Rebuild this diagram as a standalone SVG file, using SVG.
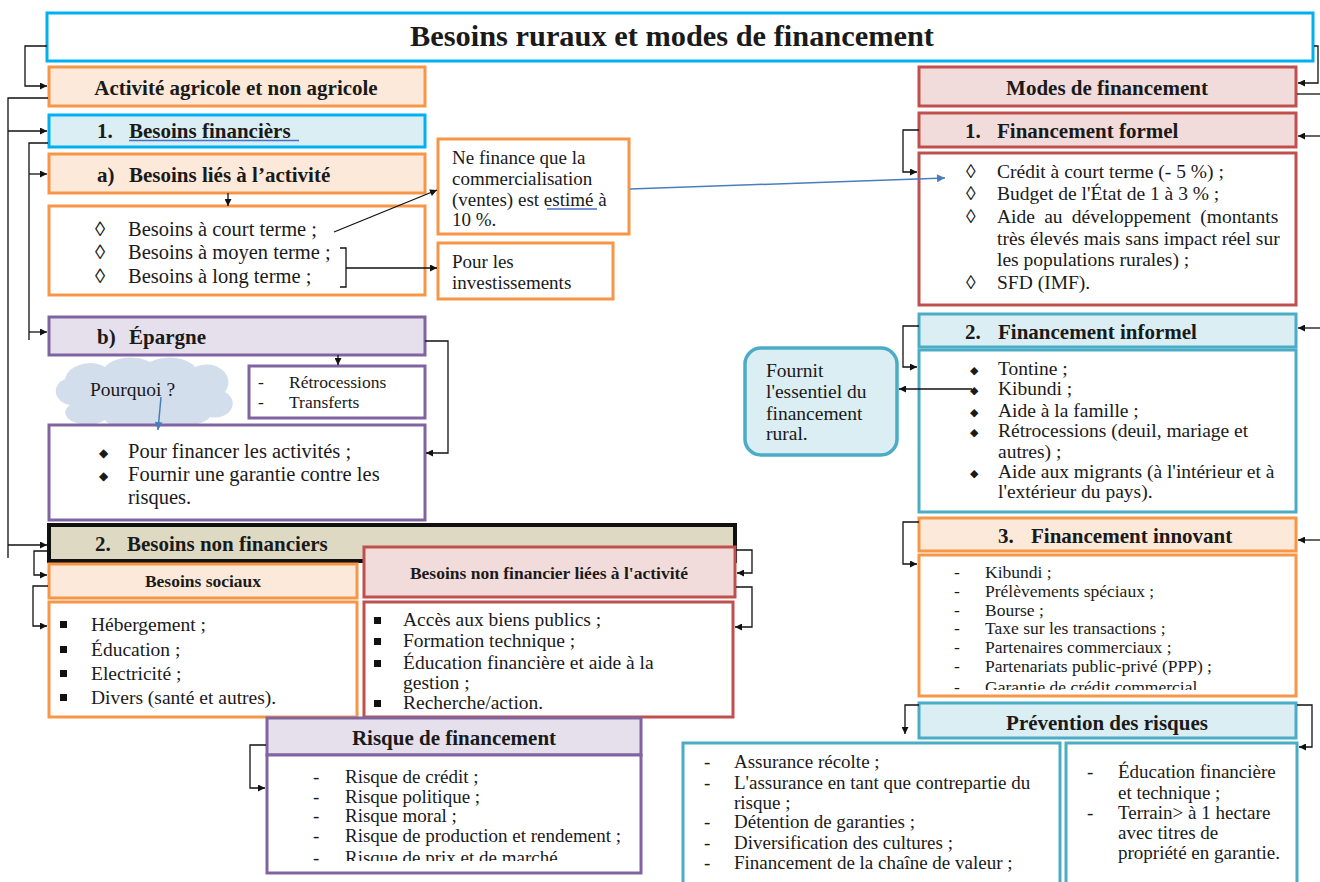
<svg xmlns="http://www.w3.org/2000/svg" width="1320" height="882" viewBox="0 0 1320 882">
  <style>
    .bx{stroke-width:3}
    .or{fill:#fde9d9;stroke:#f79646}
    .orw{fill:#ffffff;stroke:#f79646}
    .bl{fill:#daeef3;stroke:#00b0f0}
    .tq{fill:#daeef3;stroke:#4bacc6}
    .tqw{fill:#ffffff;stroke:#4bacc6}
    .rd{fill:#f2dcdb;stroke:#c0504d}
    .rdw{fill:#ffffff;stroke:#c0504d}
    .pu{fill:#e5e0ec;stroke:#8064a2}
    .puw{fill:#ffffff;stroke:#8064a2}
    text{font-family:"Liberation Serif","DejaVu Serif",serif;fill:#1a1a1a}
    .h{font-weight:bold;font-size:21px}
    .hs{font-weight:bold;font-size:17.5px}
    .t{font-size:19.5px}
    .tb{font-size:20.5px}
    .ts{font-size:17.5px}
    .tm{font-size:19px}
    .c{text-anchor:middle}
    .sym{font-family:"DejaVu Sans",sans-serif}
    .con path,.con line,.con polyline{fill:none;stroke:#111;stroke-width:1.3}
    .blue{stroke:#4a7ebb !important;stroke-width:1.5 !important}
    .spell{stroke:#4472c4;stroke-width:1.4}
  </style>
  <defs>
    <marker id="ah" viewBox="0 0 10 10" refX="10" refY="5" markerWidth="9" markerHeight="7" markerUnits="userSpaceOnUse" orient="auto">
      <path d="M0,0 L10,5 L0,10 z" fill="#111"/>
    </marker>
    <marker id="ahb" viewBox="0 0 10 10" refX="10" refY="5" markerWidth="11" markerHeight="8" markerUnits="userSpaceOnUse" orient="auto">
      <path d="M0,0 L10,5 L0,10 z" fill="#4a7ebb"/>
    </marker>
    <clipPath id="clipInnov"><rect x="920" y="556" width="374" height="134"/></clipPath>
    <clipPath id="clipRisk"><rect x="268" y="756" width="372" height="105"/></clipPath>
  </defs>

  <rect width="1320" height="882" fill="#ffffff"/>

  <!-- title -->
  <g id="title">
    <rect class="bx" x="47" y="13" width="1266" height="48" fill="#ffffff" stroke="#00b0f0" stroke-width="3.5"/>
    <text x="672" y="46" class="c" font-weight="bold" font-size="29" textLength="524" lengthAdjust="spacingAndGlyphs">Besoins ruraux et modes de financement</text>
  </g>

  <!-- left column: besoins -->
  <g id="activite">
    <rect class="bx or" x="49" y="67" width="376" height="39"/>
    <text x="236" y="95" class="h c">Activité agricole et non agricole</text>
  </g>

  <g id="besoins-financiers">
    <rect class="bx bl" x="49" y="115" width="376" height="32"/>
    <text x="97" y="138" class="h">1.</text>
    <text x="129" y="138" class="h">Besoins  financièrs</text>
    <line class="spell" x1="129" y1="140.5" x2="299" y2="140.5"/>
  </g>

  <g id="besoins-activite">
    <rect class="bx or" x="49" y="154" width="376" height="39"/>
    <text x="97" y="182" class="h">a)</text>
    <text x="129" y="182" class="h">Besoins liés à l’activité</text>
  </g>

  <g id="besoins-termes">
    <rect class="bx orw" x="49" y="206" width="376" height="89"/>
    <text x="95" y="236" class="tb">◊</text>
    <text x="128" y="236" class="tb">Besoins à court terme ;</text>
    <text x="95" y="259" class="tb">◊</text>
    <text x="128" y="259" class="tb">Besoins à moyen terme ;</text>
    <text x="95" y="283" class="tb">◊</text>
    <text x="128" y="283" class="tb">Besoins à long terme ;</text>
  </g>

  <g id="commercialisation">
    <rect class="bx orw" x="438" y="139" width="191" height="95"/>
    <text x="452" y="164" class="tm">Ne finance que la</text>
    <text x="452" y="185" class="tm">commercialisation</text>
    <text x="452" y="206" class="tm">(ventes) est estimé à</text>
    <text x="452" y="226" class="tm">10 %.</text>
    <line class="spell" x1="547" y1="209" x2="597" y2="209"/>
  </g>

  <g id="investissements">
    <rect class="bx orw" x="438" y="243" width="175" height="56"/>
    <text x="452" y="268" class="tm">Pour les</text>
    <text x="452" y="289" class="tm">investissements</text>
  </g>

  <g id="epargne">
    <rect class="bx pu" x="49" y="317" width="376" height="38"/>
    <text x="97" y="344" class="h">b)</text>
    <text x="129" y="344" class="h">Épargne</text>
  </g>

  <g id="retrocessions">
    <rect class="bx puw" x="249" y="366" width="176" height="52"/>
    <text x="258" y="388" class="ts">-</text>
    <text x="289" y="388" class="ts">Rétrocessions</text>
    <text x="258" y="408" class="ts">-</text>
    <text x="289" y="408" class="ts">Transferts</text>
  </g>

  <g id="pourquoi">
    <path d="M70,405 a18,14 0 0 1 -5,-26 a25,18 0 0 1 40,-12 a28,16 0 0 1 45,-5 a28,16 0 0 1 45,5 a22,18 0 0 1 30,25 a18,14 0 0 1 -15,25 a30,14 0 0 1 -50,5 a30,14 0 0 1 -55,-2 a22,12 0 0 1 -35,-15 z" fill="#d3deed"/>
    <text x="90" y="396" class="t">Pourquoi ?</text>
  </g>

  <g id="epargne-raisons">
    <rect class="bx puw" x="49" y="425" width="376" height="95"/>
    <text x="99" y="457" class="sym" font-size="12">◆</text>
    <text x="128" y="458" class="tb">Pour financer les activités ;</text>
    <text x="99" y="480" class="sym" font-size="12">◆</text>
    <text x="128" y="481" class="tb">Fournir une garantie contre les</text>
    <text x="128" y="504" class="tb">risques.</text>
  </g>

  <g id="besoins-non-financiers">
    <rect x="49" y="525" width="686" height="36" fill="#ddd9c3" stroke="#111" stroke-width="4"/>
    <text x="95" y="551" class="h">2.</text>
    <text x="127" y="551" class="h">Besoins non financiers</text>
  </g>

  <g id="besoins-sociaux">
    <rect class="bx or" x="49" y="564" width="308" height="34"/>
    <text x="203" y="587" class="hs c">Besoins sociaux</text>
  </g>

  <g id="sociaux-liste">
    <rect class="bx orw" x="49" y="602" width="308" height="115"/>
    <rect x="60" y="621" width="7" height="7" fill="#111"/>
    <text x="91" y="631" class="t">Hébergement ;</text>
    <rect x="60" y="646" width="7" height="7" fill="#111"/>
    <text x="91" y="656" class="t">Éducation ;</text>
    <rect x="60" y="670" width="7" height="7" fill="#111"/>
    <text x="91" y="680" class="t">Electricité ;</text>
    <rect x="60" y="694" width="7" height="7" fill="#111"/>
    <text x="91" y="704" class="t">Divers (santé et autres).</text>
  </g>

  <g id="non-financier-activite">
    <rect class="bx rd" x="364" y="547" width="371" height="50"/>
    <text x="549" y="579" class="hs c">Besoins non financier liées à l'activité</text>
  </g>

  <g id="non-financier-liste">
    <rect class="bx rdw" x="364" y="602" width="369" height="115"/>
    <rect x="374" y="617" width="7" height="7" fill="#111"/>
    <text x="403" y="626" class="t">Accès aux biens publics ;</text>
    <rect x="374" y="638" width="7" height="7" fill="#111"/>
    <text x="403" y="647" class="t">Formation technique ;</text>
    <rect x="374" y="660" width="7" height="7" fill="#111"/>
    <text x="403" y="669" class="t">Éducation financière et aide à la</text>
    <text x="403" y="689" class="t">gestion ;</text>
    <rect x="374" y="700" width="7" height="7" fill="#111"/>
    <text x="403" y="709" class="t">Recherche/action.</text>
  </g>

  <g id="risque-financement">
    <rect class="bx pu" x="267" y="718" width="374" height="37"/>
    <text x="454" y="745" class="h c">Risque de financement</text>
  </g>

  <g id="risque-liste">
    <rect class="bx puw" x="267" y="755" width="374" height="118"/>
    <g clip-path="url(#clipRisk)">
      <text x="313" y="783" class="tm">-</text>
      <text x="345" y="783" class="tm">Risque de crédit ;</text>
      <text x="313" y="803" class="tm">-</text>
      <text x="345" y="803" class="tm">Risque politique ;</text>
      <text x="313" y="822" class="tm">-</text>
      <text x="345" y="822" class="tm">Risque moral ;</text>
      <text x="313" y="842" class="tm">-</text>
      <text x="345" y="842" class="tm">Risque de production et rendement ;</text>
      <text x="313" y="864" class="tm">-</text>
      <text x="345" y="864" class="tm">Risque de prix et de marché</text>
    </g>
  </g>

  <!-- right column: modes de financement -->
  <g id="modes">
    <rect class="bx rd" x="919" y="67" width="377" height="39"/>
    <text x="1107" y="95" class="h c">Modes de financement</text>
  </g>

  <g id="financement-formel">
    <rect class="bx rd" x="919" y="113" width="377" height="34"/>
    <text x="965" y="138" class="h">1.</text>
    <text x="997" y="138" class="h">Financement formel</text>
  </g>

  <g id="formel-liste">
    <rect class="bx rdw" x="919" y="153" width="377" height="152"/>
    <text x="966" y="178" class="t">◊</text>
    <text x="997" y="178" class="t">Crédit à court terme (- 5 %) ;</text>
    <text x="966" y="200" class="t">◊</text>
    <text x="997" y="200" class="t">Budget de l'État de 1 à 3 % ;</text>
    <text x="966" y="223" class="t">◊</text>
    <text x="997" y="223" class="t" word-spacing="4.4">Aide au développement (montants</text>
    <text x="997" y="245" class="t">très élevés mais sans impact réel sur</text>
    <text x="997" y="266" class="t">les populations rurales) ;</text>
    <text x="966" y="289" class="t">◊</text>
    <text x="997" y="289" class="t">SFD (IMF).</text>
  </g>

  <g id="financement-informel">
    <rect class="bx tq" x="919" y="314" width="377" height="33"/>
    <text x="965" y="339" class="h">2.</text>
    <text x="998" y="339" class="h">Financement informel</text>
  </g>

  <g id="informel-liste">
    <rect class="bx tqw" x="919" y="350" width="377" height="162"/>
    <text x="970" y="374" class="sym" font-size="11">◆</text>
    <text x="998" y="375" class="t">Tontine ;</text>
    <text x="970" y="394" class="sym" font-size="11">◆</text>
    <text x="998" y="395" class="t">Kibundi ;</text>
    <text x="970" y="416" class="sym" font-size="11">◆</text>
    <text x="998" y="417" class="t">Aide à la famille ;</text>
    <text x="970" y="436" class="sym" font-size="11">◆</text>
    <text x="998" y="437" class="t">Rétrocessions (deuil, mariage et</text>
    <text x="998" y="458" class="t">autres) ;</text>
    <text x="970" y="477" class="sym" font-size="11">◆</text>
    <text x="998" y="478" class="t">Aide aux migrants (à l'intérieur et à</text>
    <text x="998" y="498" class="t">l'extérieur du pays).</text>
  </g>

  <g id="essentiel">
    <rect x="745" y="348" width="152" height="107" rx="16" ry="16" fill="#daeef3" stroke="#4bacc6" stroke-width="3.5"/>
    <text x="766" y="377" class="t">Fournit</text>
    <text x="766" y="398" class="t">l'essentiel du</text>
    <text x="766" y="420" class="t">financement</text>
    <text x="766" y="440" class="t">rural.</text>
  </g>

  <g id="financement-innovant">
    <rect class="bx or" x="919" y="518" width="377" height="33"/>
    <text x="998" y="543" class="h">3.</text>
    <text x="1031" y="543" class="h">Financement innovant</text>
  </g>

  <g id="innovant-liste">
    <rect class="bx orw" x="919" y="555" width="377" height="141"/>
    <g clip-path="url(#clipInnov)">
      <text x="954" y="578" class="ts">-</text>
      <text x="985" y="578" class="ts">Kibundi ;</text>
      <text x="954" y="597" class="ts">-</text>
      <text x="985" y="597" class="ts">Prélèvements spéciaux ;</text>
      <text x="954" y="616" class="ts">-</text>
      <text x="985" y="616" class="ts">Bourse ;</text>
      <text x="954" y="634" class="ts">-</text>
      <text x="985" y="634" class="ts">Taxe sur les transactions ;</text>
      <text x="954" y="653" class="ts">-</text>
      <text x="985" y="653" class="ts">Partenaires commerciaux ;</text>
      <text x="954" y="672" class="ts">-</text>
      <text x="985" y="672" class="ts">Partenariats public-privé (PPP) ;</text>
      <text x="954" y="693" class="ts">-</text>
      <text x="985" y="693" class="ts">Garantie de crédit commercial</text>
    </g>
  </g>

  <g id="prevention">
    <rect class="bx tq" x="919" y="703" width="377" height="35"/>
    <text x="1107" y="730" class="h c" font-size="19.5">Prévention des risques</text>
  </g>

  <g id="prevention-gauche">
    <rect class="bx tqw" x="683" y="743" width="377" height="150"/>
    <text x="704" y="768" class="tm">-</text>
    <text x="734" y="768" class="tm">Assurance récolte ;</text>
    <text x="704" y="789" class="tm">-</text>
    <text x="734" y="789" class="tm">L'assurance en tant que contrepartie du</text>
    <text x="734" y="809" class="tm">risque ;</text>
    <text x="704" y="828" class="tm">-</text>
    <text x="734" y="828" class="tm">Détention de garanties ;</text>
    <text x="704" y="849" class="tm">-</text>
    <text x="734" y="849" class="tm">Diversification des cultures ;</text>
    <text x="704" y="869" class="tm">-</text>
    <text x="734" y="869" class="tm">Financement de la chaîne de valeur ;</text>
  </g>

  <g id="prevention-droite">
    <rect class="bx tqw" x="1066" y="743" width="231" height="150"/>
    <text x="1087" y="778" class="tm" font-size="18.5">-</text>
    <text x="1118" y="778" class="tm" font-size="18.5">Éducation financière</text>
    <text x="1118" y="799" class="tm" font-size="18.5">et technique ;</text>
    <text x="1087" y="819" class="tm" font-size="18.5">-</text>
    <text x="1118" y="819" class="tm" font-size="18.5">Terrain&gt; à 1 hectare</text>
    <text x="1118" y="839" class="tm" font-size="18.5">avec titres de</text>
    <text x="1118" y="859" class="tm" font-size="18.5">propriété en garantie.</text>
  </g>

  <!-- connectors -->
  <g id="connectors" class="con">
    <!-- left side -->
    <polyline points="47,46 25,46 25,86 47,86" marker-end="url(#ah)"/>
    <polyline points="48,98 8,98 8,558"/>
    <line x1="8" y1="131" x2="47" y2="131" marker-end="url(#ah)"/>
    <line x1="8" y1="545" x2="47" y2="545" marker-end="url(#ah)"/>
    <polyline points="48,143 29,143 29,340"/>
    <line x1="29" y1="174" x2="47" y2="174" marker-end="url(#ah)"/>
    <line x1="29" y1="332" x2="47" y2="332" marker-end="url(#ah)"/>
    <line x1="228" y1="193" x2="228" y2="206" marker-end="url(#ah)"/>
    <line x1="334" y1="232" x2="437" y2="190" marker-end="url(#ah)"/>
    <path d="M340,248 H346 V287 H340" stroke="#555"/>
    <line x1="346" y1="268" x2="437" y2="268" marker-end="url(#ah)"/>
    <line x1="338" y1="355" x2="338" y2="365" marker-end="url(#ah)"/>
    <polyline points="425,341 448,341 448,453 426,453" marker-end="url(#ah)"/>
    <line class="blue" x1="161" y1="397" x2="158" y2="430" marker-end="url(#ahb)"/>
    <polyline points="48,551 34,551 34,575 47,575" marker-end="url(#ah)"/>
    <polyline points="48,586 33,586 33,626 47,626" marker-end="url(#ah)"/>
    <polyline points="736,550 752,550 752,573 737,573" marker-end="url(#ah)"/>
    <polyline points="736,587 752,587 752,627 735,627" marker-end="url(#ah)"/>
    <polyline points="266,745 250,745 250,788 265,788" marker-end="url(#ah)"/>
    <line class="blue" x1="630" y1="189" x2="945" y2="178" marker-end="url(#ahb)"/>
    <!-- right side -->
    <polyline points="1314,46 1318,46 1318,83 1298,83" marker-end="url(#ah)"/>
    <line x1="1297" y1="94" x2="1320" y2="94"/>
    <line x1="1320" y1="136" x2="1298" y2="136" marker-end="url(#ah)"/>
    <line x1="1320" y1="328" x2="1298" y2="328" marker-end="url(#ah)"/>
    <line x1="1320" y1="540" x2="1298" y2="540" marker-end="url(#ah)"/>
    <polyline points="919,130 903,130 903,172 917,172" marker-end="url(#ah)"/>
    <polyline points="919,326 903,326 903,367 917,367" marker-end="url(#ah)"/>
    <line x1="972" y1="389" x2="899" y2="389" marker-end="url(#ah)"/>
    <polyline points="919,522 903,522 903,564 917,564" marker-end="url(#ah)"/>
    <polyline points="919,705 905,705 905,734" marker-end="url(#ah)"/>
    <polyline points="1297,705 1312,705 1312,747 1299,747" marker-end="url(#ah)"/>
  </g>
</svg>
